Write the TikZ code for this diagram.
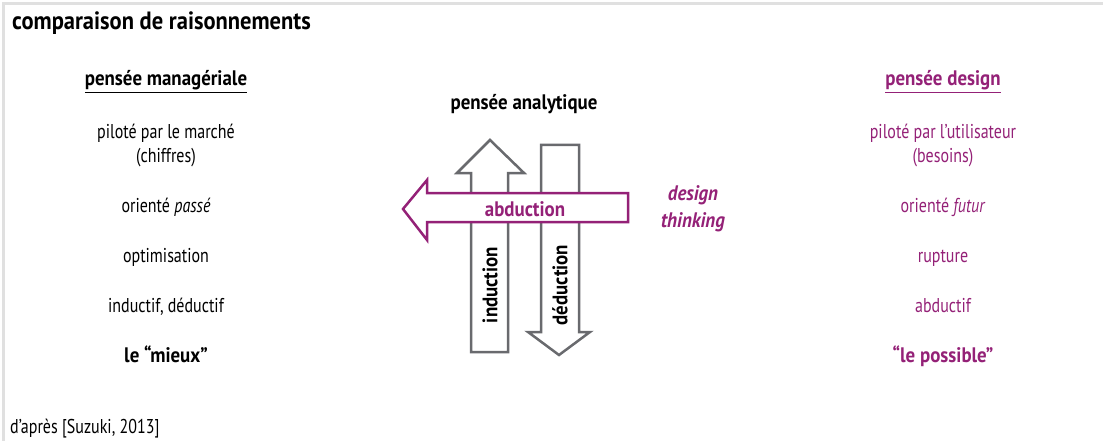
\documentclass[tikz,border=0pt]{standalone}
\usepackage{fontspec}
\setmainfont{PT Sans}[UprightFeatures={FakeStretch=0.8}, ItalicFeatures={FakeStretch=0.8}, BoldFeatures={FakeStretch=0.9}, BoldItalicFeatures={FakeStretch=0.9}]
\definecolor{dpurple}{RGB}{148,33,119}
\definecolor{chalk}{RGB}{105,106,110}

\begin{document}
\begin{tikzpicture}[x=1pt, y=-1pt, every node/.style={font=\fontsize{20}{22}\selectfont, inner sep=0pt, anchor=base}]
  \useasboundingbox (0,0) rectangle (1103,441);
  % page edge
  \draw[black!12, line width=3pt] (3,441) -- (3,4) -- (1103,4);
  \node[anchor=base west, font=\fontsize{25}{27}\selectfont\bfseries] (title) at (12,30) {comparaison de raisonnements};
  \node[anchor=base west] (src) at (10,433) {d’après [Suzuki, 2013]};

  % managerial thinking (left)
  \node[font=\fontsize{21}{22}\selectfont\bfseries] (mhead) at (166,86) {\underline{pensée managériale}};
  \foreach \y/\txt [count=\i] in {139/piloté par le marché, 162/(chiffres), 212/orienté \textit{passé}, 262/optimisation, 312/{inductif, déductif}} {
    \node (m\i) at (166,\y) {\txt};
  }
  \node[font=\fontsize{21}{22}\selectfont\bfseries] (mbest) at (166,362) {le “mieux”};

  % design thinking (right)
  \node[font=\fontsize{21}{22}\selectfont\bfseries, dpurple] (dhead) at (943,86) {\underline{pensée design}};
  \foreach \y/\txt [count=\i] in {139/piloté par l’utilisateur, 162/(besoins), 212/orienté \textit{futur}, 262/rupture, 312/abductif} {
    \node[dpurple] (d\i) at (943,\y) {\txt};
  }
  \node[font=\fontsize{21}{22}\selectfont\bfseries, dpurple] (dbest) at (943,362) {“le possible”};

  % reasoning arrows (centre)
  \node[font=\fontsize{21}{22}\selectfont\bfseries] (ana) at (524,110) {pensée analytique};
  \draw[chalk, line width=2.5pt, fill=white] (471,352) -- (471,173) -- (457,173) -- (490,140) -- (524,173) -- (508,173) -- (508,352) -- cycle;
  \draw[chalk, line width=2.5pt, fill=white] (541,145) -- (541,332) -- (528,332) -- (559,355) -- (590,332) -- (579,332) -- (579,145) -- cycle;
  \node[rotate=90, anchor=center, font=\fontsize{21}{22}\selectfont\bfseries] (ind) at (490,285) {induction};
  \node[rotate=90, anchor=center, font=\fontsize{21}{22}\selectfont\bfseries] (ded) at (560,285) {déduction};
  \draw[dpurple, line width=2.5pt, fill=white] (628,193) -- (427,193) -- (427,180) -- (403,209) -- (427,240) -- (427,222) -- (628,222) -- cycle;
  \node[font=\fontsize{21}{22}\selectfont\bfseries, dpurple] (abd) at (525,216) {abduction};
  \node[font=\fontsize{21}{22}\selectfont\bfseries\itshape, dpurple] (dt1) at (693,200) {design};
  \node[font=\fontsize{21}{22}\selectfont\bfseries\itshape, dpurple] (dt2) at (693,227) {thinking};
\end{tikzpicture}
\end{document}
